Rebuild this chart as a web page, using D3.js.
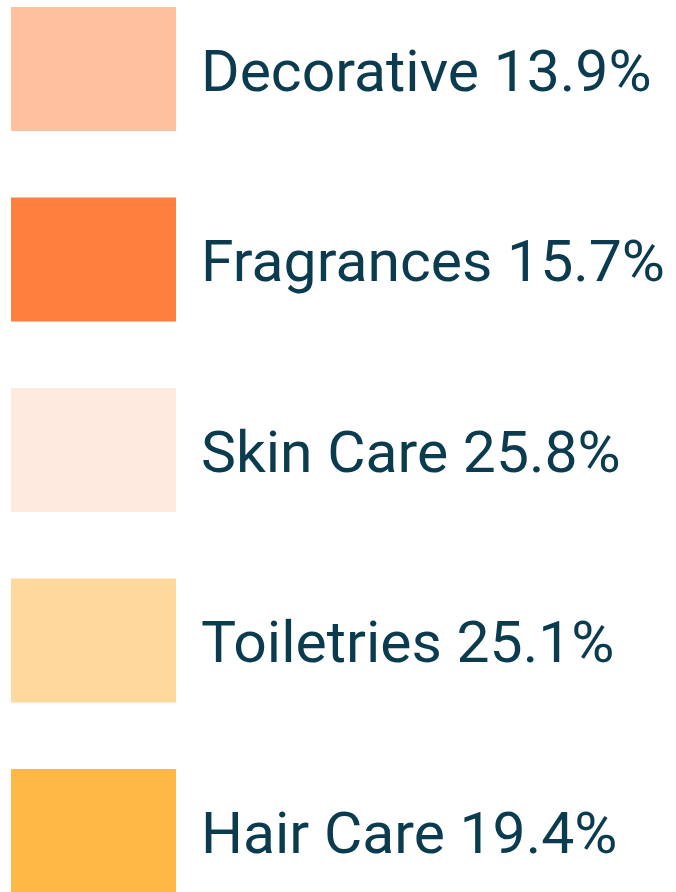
<!DOCTYPE html>
<meta charset="UTF-8">
<head>
<style>
  body { margin: 0; background: #fff; }
</style>
</head>
<body>
<svg width="676" height="892"></svg>
<script src="https://d3js.org/d3.v7.min.js"></script>
<script>

// Legend data.
var categories = ["Decorative", "Fragrances", "Skin Care", "Toiletries", "Hair Care"];
var shares = [13.9, 15.7, 25.8, 25.1, 19.4];
var colors = ["#ffc09f", "#ff7f3f", "#ffeae0", "#ffd89e", "#ffb745"];

var svg = d3.select("svg"),
    width = +svg.attr("width"),
    height = +svg.attr("height");

// One band per legend row (step ~190px, swatch 124px tall).
var y = d3.scaleBand()
    .domain(categories)
    .range([7, 893])
    .paddingInner(0.349)
    .paddingOuter(0)
    .align(0);

var color = d3.scaleOrdinal()
    .domain(categories)
    .range(colors);

var row = svg.selectAll(".row")
    .data(categories)
    .enter().append("g")
    .attr("class", "row")
    .attr("transform", function(d) { return "translate(0," + y(d) + ")"; });

row.append("rect")
    .attr("x", 11)
    .attr("width", 165)
    .attr("height", y.bandwidth())
    .attr("fill", function(d) { return color(d); });

var label = row.append("text")
    .attr("font-family", "Roboto, 'Open Sans', sans-serif")
    .attr("font-size", 58)
    .attr("fill", "#0a3b4e")
    .text(function(d, i) { return d + " " + shares[i] + "%"; });

// Fit the labels to the original face: the widest one spans about 464px.
var widest = d3.max(label.nodes(), function(n) { return n.getComputedTextLength(); });
var k = 464 / widest;
label.attr("transform", "translate(201,84) scale(" + k + ",1)");

</script>
</body>
